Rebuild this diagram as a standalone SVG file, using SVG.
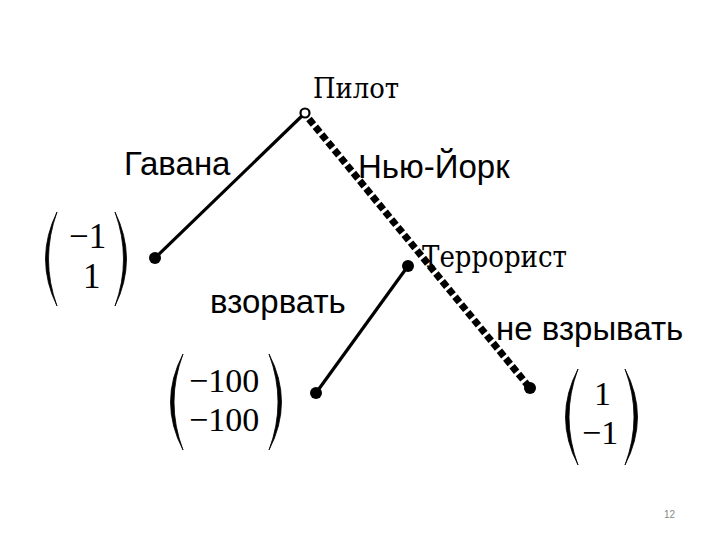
<svg xmlns="http://www.w3.org/2000/svg" width="720" height="540" viewBox="0 0 720 540">
<style>
.serif{font-family:"DejaVu Serif","Liberation Serif",serif;fill:#000}
.sans{font-family:"Liberation Sans","DejaVu Sans",sans-serif;fill:#000;font-size:33px}
.num{font-family:"Liberation Serif","DejaVu Serif",serif;fill:#000}
.edge{stroke:#000;stroke-width:3.2;fill:none}
.dash{stroke:#000;stroke-width:7;stroke-dasharray:7 3;fill:none}
.paren{fill:#000;stroke:#000;stroke-width:0.8;stroke-linejoin:round}
</style>
<rect width="720" height="540" fill="#fff"/>
<g id="connectors">
<line class="edge" x1="305" y1="113" x2="155" y2="258"/>
<line class="dash" x1="309" y1="119" x2="530" y2="388"/>
<line class="edge" x1="408" y1="266" x2="316" y2="393"/>
</g>
<g id="pilot">
<circle cx="305" cy="113" r="4.5" fill="#fff" stroke="#000" stroke-width="2.2"/>
<text class="serif" x="313" y="98" font-size="27.5" textLength="86" lengthAdjust="spacingAndGlyphs">Пилот</text>
</g>
<g id="terrorist">
<circle cx="408" cy="266" r="6" fill="#000"/>
<text class="serif" x="422" y="267" font-size="29" textLength="145" lengthAdjust="spacingAndGlyphs">Террорист</text>
</g>
<g id="leaf-havana">
<circle cx="155" cy="258" r="6" fill="#000"/>
<path class="paren" d="M57,212 Q34,259 57,306 Q40,259 57,212 Z"/>
<path class="paren" d="M115,212 Q138,259 115,306 Q132,259 115,212 Z"/>
<text class="num" x="69" y="248" font-size="35">−1</text>
<text class="num" x="83" y="288" font-size="35">1</text>
</g>
<g id="leaf-explode">
<circle cx="316" cy="393" r="6" fill="#000"/>
<path class="paren" d="M183,354 Q158,402 183,450 Q165,402 183,354 Z"/>
<path class="paren" d="M269,354 Q294,402 269,450 Q287,402 269,354 Z"/>
<text class="num" x="189" y="392" font-size="34">−100</text>
<text class="num" x="189" y="431" font-size="34">−100</text>
</g>
<g id="leaf-noexplode">
<circle cx="530" cy="388" r="6" fill="#000"/>
<path class="paren" d="M578,369 Q553,417 578,465 Q560,417 578,369 Z"/>
<path class="paren" d="M625,369 Q650,417 625,465 Q643,417 625,369 Z"/>
<text class="num" x="594" y="405" font-size="34">1</text>
<text class="num" x="582" y="444" font-size="34">−1</text>
</g>
<g id="labels">
<text class="sans" x="124" y="175">Гавана</text>
<text class="sans" x="358" y="178">Нью-Йорк</text>
<text class="sans" x="210" y="313">взорвать</text>
<text class="sans" x="496" y="340">не взрывать</text>
</g>
<text x="664" y="518" font-family="Liberation Sans,sans-serif" font-size="10" fill="#888">12</text>
</svg>
